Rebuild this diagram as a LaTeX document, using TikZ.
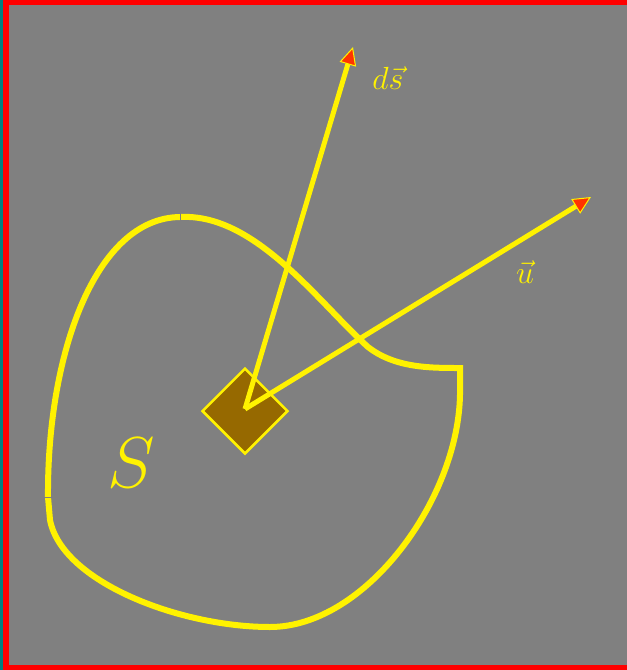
\RequirePackage{fix-cm}
\documentclass[tikz,border=0pt]{standalone}
\usetikzlibrary{arrows.meta, shapes.geometric}
\definecolor{bggray}{RGB}{128,128,128}
\definecolor{frametealx}{RGB}{0,128,128}
\definecolor{tipred}{RGB}{255,51,0}
\definecolor{elemfill}{RGB}{150,105,0}

\begin{document}
\begin{tikzpicture}[x=1pt, y=-1pt,
    curve/.style={yellow, line width=6pt},
    vecarrow/.style={yellow, line width=5pt,
        -{Triangle[length=18pt, width=17pt, fill=tipred, line width=1pt]}},
    veclabel/.style={text=yellow, font=\fontsize{32}{36}\selectfont}]
    \useasboundingbox (0,0) rectangle (627,670);
    % background and frame
    \fill[bggray] (0,0) rectangle (627,670);
    \fill[frametealx] (0,0) rectangle (3,670);
    \fill[red] (3,0) rectangle (9,670);
    \fill[red] (3,0) rectangle (627,5);
    \fill[red] (3,665) rectangle (627,670);
    % the surface S
    \draw[curve] (180,217) .. controls (255,213) and (318,302) .. (368,347)
        .. controls (395,368) and (430,368) .. (460,368)
        -- (460,395)
        .. controls (458,500) and (365,627) .. (270,627)
        .. controls (180,627) and (62,582) .. (50,520)
        -- (48,497)
        .. controls (47,355) and (95,218) .. (180,217) -- cycle;
    \draw[bggray, line width=1pt] (180,213) -- (180,221);
    \draw[bggray, line width=1pt] (44,497) -- (53,497);
    \node[text=yellow, font=\fontsize{72}{80}\selectfont] (slabel) at (131,463) {$S$};
    % surface element
    \node[shape=diamond, draw=yellow, line width=2.5pt, fill=elemfill,
        minimum width=86pt, minimum height=86pt, inner sep=0pt] (elem) at (245,411) {};
    \coordinate (o) at (245,409);
    \coordinate (dstip) at (353,47);
    \coordinate (utip) at (591,197);
    \draw[vecarrow] (o) -- (dstip);
    \draw[vecarrow] (o) -- (utip);
    \node[veclabel] (dslabel) at (388,78) {$d\vec{s}$};
    \node[veclabel] (ulabel) at (525,272) {$\vec{u}$};
\end{tikzpicture}
\end{document}
